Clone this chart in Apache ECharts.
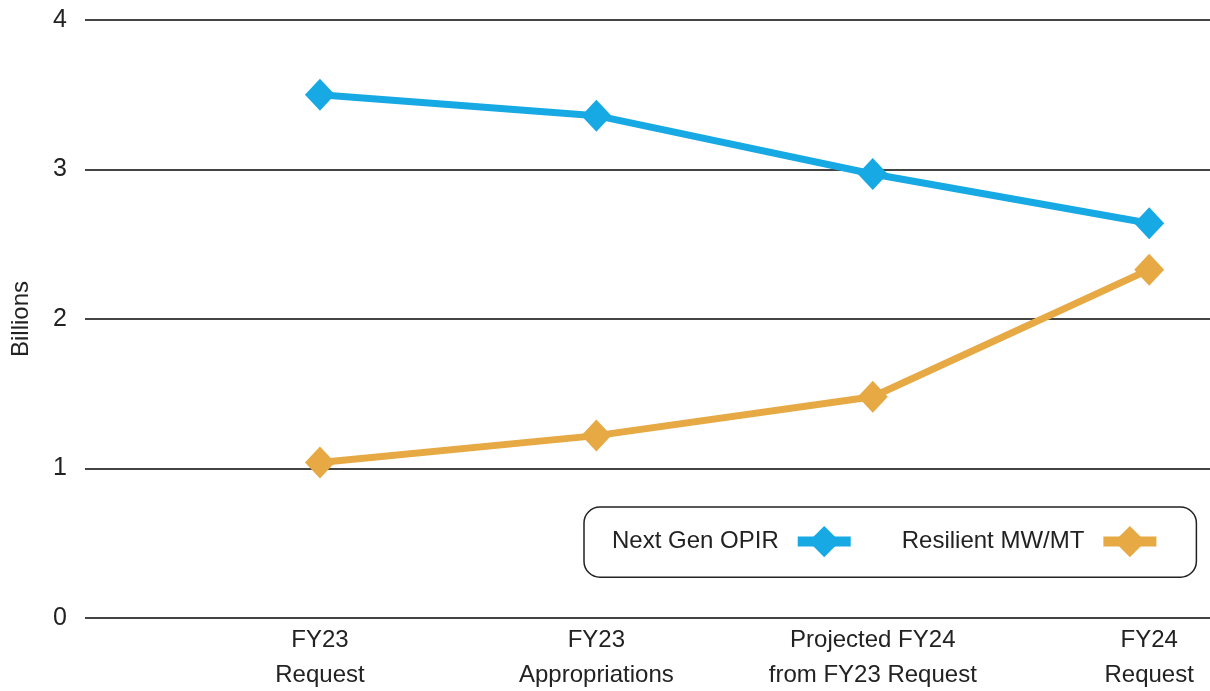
<!DOCTYPE html>
<html>
<head>
<meta charset="utf-8">
<script src="https://cdn.jsdelivr.net/npm/echarts@6/dist/echarts.min.js"></script>
<style>
html,body{margin:0;padding:0;background:#fff;}
#chart{width:1210px;height:691px;}
</style>
</head>
<body>
<div id="chart"></div>
<script>
const categories = ['FY23\nRequest', 'FY23\nAppropriations', 'Projected FY24\nfrom FY23 Request', 'FY24\nRequest'];
const nextGenOPIR = [3.50, 3.36, 2.97, 2.64];
const resilientMWMT = [1.04, 1.22, 1.48, 2.33];
const yTicks = [0, 1, 2, 3, 4];

const FONT = "'Liberation Sans Narrow', 'Liberation Sans', Arial, sans-serif";
const chart = echarts.init(document.getElementById('chart'));
const toPts = arr => arr.map((v, i) => [i, v]);

chart.setOption({
  animation: false,
  grid: { left: 85, right: 0, top: 20, bottom: 73, containLabel: false, outerBoundsMode: 'none' },
  xAxis: {
    type: 'value',
    min: -0.85,
    max: 3.22,
    axisLine: { show: false },
    axisTick: { show: false },
    splitLine: { show: false },
    axisLabel: {
      customValues: categories.map((c, i) => i),
      formatter: v => categories[Math.round(v)] || '',
      fontFamily: FONT,
      fontSize: 24,
      lineHeight: 35,
      color: '#222',
      margin: 5
    }
  },
  yAxis: {
    type: 'value',
    min: yTicks[0],
    max: yTicks[yTicks.length - 1],
    interval: 1,
    name: 'Billions',
    nameLocation: 'middle',
    nameGap: 52,
    nameTextStyle: { fontFamily: FONT, fontSize: 24, color: '#222' },
    axisLine: { show: false },
    axisTick: { show: false },
    axisLabel: { fontFamily: FONT, fontSize: 25, color: '#222', margin: 18 },
    splitLine: { lineStyle: { color: '#444', width: 2 } }
  },
  legend: {
    left: 584,
    top: 507,
    width: 700,
    orient: 'horizontal',
    align: 'right',
    padding: [19, 35, 20, 28],
    itemGap: 46,
    itemWidth: 53,
    itemHeight: 39,
    borderColor: '#222',
    borderWidth: 1.5,
    borderRadius: 16,
    lineStyle: { width: 10 },
    textStyle: { fontFamily: FONT, fontSize: 24, color: '#222', padding: [0, 14, 0, 0] },
    data: ['Next Gen OPIR', 'Resilient MW/MT']
  },
  series: [
    {
      name: 'Next Gen OPIR',
      type: 'line',
      data: toPts(nextGenOPIR),
      symbol: 'diamond',
      symbolSize: [30, 32],
      color: '#17a9e3',
      lineStyle: { color: '#17a9e3', width: 7 },
      itemStyle: { color: '#17a9e3' }
    },
    {
      name: 'Resilient MW/MT',
      type: 'line',
      data: toPts(resilientMWMT),
      symbol: 'diamond',
      symbolSize: [30, 32],
      color: '#e6a943',
      lineStyle: { color: '#e6a943', width: 7 },
      itemStyle: { color: '#e6a943' }
    }
  ]
});
</script>
</body>
</html>
